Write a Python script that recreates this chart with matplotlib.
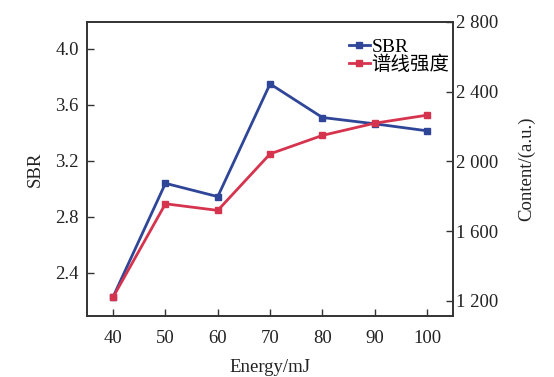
import matplotlib
matplotlib.use("Agg")
import matplotlib.pyplot as plt

energy = [40, 50, 60, 70, 80, 90, 100]
sbr = [2.23, 3.04, 2.945, 3.75, 3.51, 3.465, 3.415]
content = [1222, 1757, 1719, 2043, 2149, 2219, 2265]
xticks = [40, 50, 60, 70, 80, 90, 100]
left_ticks = [2.4, 2.8, 3.2, 3.6, 4.0]
right_ticks = [1200, 1600, 2000, 2400, 2800]

blue = "#2f4597"
red = "#d6344e"

plt.rcParams['font.family'] = ['Liberation Serif', 'Noto Sans CJK SC']
plt.rcParams['font.size'] = 13.5

fig = plt.figure(figsize=(5.54, 3.77), dpi=100)
ax = fig.add_axes([0.157, 0.162, 0.661, 0.780])
ax2 = ax.twinx()

l1, = ax.plot(energy, sbr, color=blue, lw=2, marker='s', ms=5, label='SBR')
l2, = ax2.plot(energy, content, color=red, lw=2, marker='s', ms=5, label='谱线强度')

ax.set_xlim(35, 105)
ax.set_ylim(2.093, 4.193)
ax2.set_ylim(1114, 2800)
ax.set_xticks(xticks)
ax.set_yticks(left_ticks)
ax.set_yticklabels([f"{v:.1f}" for v in left_ticks])
ax2.set_yticks(right_ticks)
ax2.set_yticklabels([f"{v:,}".replace(",", " ") for v in right_ticks])

for a in (ax, ax2):
    a.tick_params(direction='in', length=5, width=1, color='#333333', labelcolor='#222222')
    for s in a.spines.values():
        s.set_linewidth(1.2)
        s.set_color('#333333')
ax.tick_params(axis='x', pad=10)
ax.tick_params(axis='y', pad=6)
ax2.tick_params(axis='y', pad=2)

ax.set_xlabel('Energy/mJ', labelpad=9, color='#222222')
ax.set_ylabel('SBR', labelpad=8, color='#222222')
ax2.set_ylabel('Content/(a.u.)', labelpad=14, color='#222222')

leg = ax.legend(handles=[l1, l2], loc='upper right', bbox_to_anchor=(1.022, 0.985),
                frameon=False, handlelength=1.05, handletextpad=0.1,
                labelspacing=0.0, borderaxespad=0.2, fontsize=14)
for h in leg.legend_handles:
    h.set_markersize(4)

fig.savefig('out.png', dpi=100)
